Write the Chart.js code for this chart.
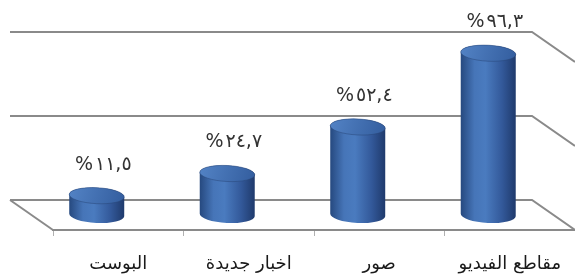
<!DOCTYPE html>
<html>
<head>
<meta charset="utf-8">
<script src="https://cdn.jsdelivr.net/npm/chart.js@4/dist/chart.umd.min.js"></script>
<style>
  html, body { margin: 0; padding: 0; background: #ffffff; }
  #wrap { position: relative; width: 575px; height: 278px; }
</style>
</head>
<body>
<div id="wrap"><canvas id="c"></canvas></div>
<script>
// ---- data ----
const categories = ['البوست', 'اخبار جديدة', 'صور', 'مقاطع الفيديو'];
const values = [11.5, 24.7, 52.4, 96.3];
const valueLabels = ['%١١,٥', '%٢٤,٧', '%٥٢,٤', '%٩٦,٣'];
const gridValues = [0, 50, 100];

// ---- style ----
const DEPTH_X = 43, DEPTH_Y = 30;
const LINE = '#8a8a8a';

const frame3d = {
  id: 'frame3d',
  beforeDatasetsDraw(chart) {
    const { ctx, chartArea, scales } = chart;
    const ys = scales.y;
    ctx.save();
    ctx.strokeStyle = LINE;
    ctx.lineWidth = 2;
    gridValues.forEach(v => {
      const y = ys.getPixelForValue(v) - DEPTH_Y;
      ctx.beginPath();
      ctx.moveTo(chartArea.left - DEPTH_X, y);
      ctx.lineTo(chartArea.right - DEPTH_X, y);
      ctx.lineTo(chartArea.right, y + DEPTH_Y);
      ctx.stroke();
    });
    const yb = ys.getPixelForValue(0);
    ctx.beginPath();
    ctx.moveTo(chartArea.left - DEPTH_X, yb - DEPTH_Y);
    ctx.lineTo(chartArea.left, yb);
    ctx.stroke();
    ctx.restore();
  },
  afterDatasetsDraw(chart) {
    const { ctx } = chart;
    const meta = chart.getDatasetMeta(0);
    const ry = 8, rot = 0.05;
    ctx.save();
    meta.data.forEach((el, i) => {
      const p = el.getProps(['x', 'y', 'base', 'width'], true);
      const cx = p.x - DEPTH_X / 2;
      const top = p.y - DEPTH_Y / 2;
      const bot = p.base - DEPTH_Y / 2;
      const rx = p.width / 2;
      // body
      const g = ctx.createLinearGradient(cx - rx, 0, cx + rx, 0);
      g.addColorStop(0, '#26497f');
      g.addColorStop(0.25, '#4675b8');
      g.addColorStop(0.45, '#4a7bbf');
      g.addColorStop(0.75, '#33599a');
      g.addColorStop(1, '#1f3a6c');
      ctx.beginPath();
      ctx.moveTo(cx - rx, top);
      ctx.lineTo(cx - rx, bot);
      ctx.ellipse(cx, bot, rx, ry, rot, Math.PI, 0, true);
      ctx.lineTo(cx + rx, top);
      ctx.ellipse(cx, top, rx, ry, rot, 0, Math.PI, true);
      ctx.closePath();
      ctx.fillStyle = g;
      ctx.fill();
      // top cap
      const gt = ctx.createLinearGradient(cx - rx, top - ry, cx + rx, top + ry);
      gt.addColorStop(0, '#5383c5');
      gt.addColorStop(1, '#335d9e');
      ctx.beginPath();
      ctx.ellipse(cx, top, rx, ry, rot, 0, Math.PI * 2);
      ctx.fillStyle = gt;
      ctx.fill();
      ctx.strokeStyle = 'rgba(40,70,120,0.5)';
      ctx.lineWidth = 1;
      ctx.stroke();
      // value label
      ctx.font = '19px "DejaVu Sans"';
      ctx.letterSpacing = '2px';
      ctx.fillStyle = '#333333';
      ctx.textAlign = 'center';
      ctx.textBaseline = 'middle';
      ctx.direction = 'ltr';
      ctx.fillText(valueLabels[i], p.x - 15, p.y - 46);
    });
    ctx.restore();
  }
};

new Chart(document.getElementById('c'), {
  type: 'bar',
  data: {
    labels: categories,
    datasets: [{
      data: values,
      backgroundColor: 'rgba(0,0,0,0)',
      borderWidth: 0,
      categoryPercentage: 0.8,
      barPercentage: 0.527
    }]
  },
  options: {
    responsive: true,
    maintainAspectRatio: false,
    animation: false,
    layout: { padding: { left: 53, right: 0, top: 62, bottom: 0 } },
    plugins: { legend: { display: false }, tooltip: { enabled: false } },
    scales: {
      x: {
        grid: { drawOnChartArea: false, drawTicks: true, tickLength: 6, color: '#b0b0b0', lineWidth: 1 },
        border: { display: true, color: LINE, width: 2 },
        ticks: { font: { family: 'DejaVu Sans', size: 18 }, color: '#1a1a1a', padding: 18, maxRotation: 0, autoSkip: false },
        afterFit(scale) { scale.height = 48; scale.paddingLeft = 0; scale.paddingRight = 0; }
      },
      y: {
        display: false,
        min: 0,
        max: 100
      }
    }
  },
  plugins: [frame3d]
});
</script>
</body>
</html>
